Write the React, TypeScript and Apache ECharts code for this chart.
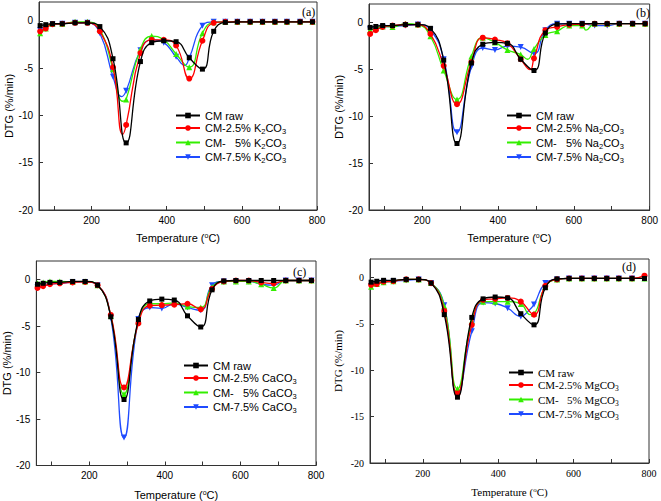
import React, { useEffect, useRef } from 'react';
import * as echarts from 'echarts';

// Temperatures (°C) at which the curve markers sit
const temps = [63, 78, 96, 122, 156, 189, 222, 257, 292, 330, 360, 392, 425, 460, 495, 525, 556, 588, 622, 655, 688, 720, 755, 788];

// CM raw (same in every panel)
const cmRaw = [-0.5, -0.4, -0.3, -0.3, -0.2, -0.2, -0.6, -4.0, -12.9, -4.3, -2.3, -2.1, -2.2, -3.9, -5.1, -1.1, -0.15, -0.1, -0.1, -0.1, -0.1, -0.1, -0.1, -0.1];

// (a) K2CO3
const k25 = [-1.1, -0.8, -0.35, -0.3, -0.2, -0.2, -1.1, -4.9, -11.0, -3.4, -2.0, -2.0, -2.6, -6.1, -2.1, -0.2, -0.1, -0.1, -0.1, -0.1, -0.1, -0.1, -0.1, -0.1];
const k25Extra = [[283, -12.0]];
const k5 = [-1.3, -0.8, -0.3, -0.3, -0.1, -0.1, -0.9, -5.1, -8.3, -3.0, -1.6, -2.0, -3.5, -4.9, -1.3, -0.15, -0.1, -0.1, -0.1, -0.1, -0.1, -0.1, -0.1, -0.1];
const k5Extra = [[283, -8.5]];
const k75 = [-1.0, -0.7, -0.35, -0.3, -0.2, -0.2, -1.3, -5.9, -7.4, -3.1, -2.0, -2.3, -3.8, -3.9, -0.5, -0.1, -0.1, -0.1, -0.1, -0.1, -0.1, -0.1, -0.1, -0.1];
const k75Extra = [[280, -8.0], [448, -4.7]];

// (b) Na2CO3
const na25 = [-1.2, -0.8, -0.45, -0.3, -0.2, -0.2, -1.2, -4.6, -8.7, -4.2, -1.6, -1.8, -2.2, -3.9, -3.8, -0.8, -0.45, -0.2, -0.15, -0.1, -0.1, -0.1, -0.1, -0.1];
const na25Extra = [[485, -5.0]];
const na5 = [-0.8, -0.6, -0.4, -0.45, -0.1, -0.2, -1.45, -5.1, -8.2, -3.6, -1.6, -2.1, -2.9, -3.4, -2.8, -1.3, -0.9, -0.3, -0.3, -0.1, -0.1, -0.1, -0.1, -0.1];
const na5Extra = [[478, -3.9], [632, -0.8]];
const na75 = [-0.7, -0.7, -0.45, -0.4, -0.3, -0.2, -0.75, -3.9, -11.7, -4.7, -2.7, -2.9, -2.5, -2.6, -3.3, -0.8, -0.1, -0.1, -0.1, -0.3, -0.3, -0.1, -0.1, -0.1];
const na75Extra: number[][] = [];

// (c) CaCO3
const ca25 = [-0.9, -0.7, -0.5, -0.4, -0.3, -0.25, -0.6, -3.8, -11.6, -4.7, -2.8, -2.75, -2.7, -2.6, -3.2, -1.0, -0.2, -0.1, -0.1, -0.3, -0.4, -0.1, -0.1, -0.1];
const ca25Extra: number[][] = [];
const ca5 = [-0.4, -0.3, -0.2, -0.2, -0.25, -0.2, -0.6, -3.9, -12.3, -4.5, -2.6, -2.6, -2.5, -2.9, -3.0, -0.8, -0.2, -0.2, -0.2, -0.5, -0.9, -0.1, -0.1, -0.1];
const ca5Extra: number[][] = [];
const ca75 = [-0.8, -0.7, -0.5, -0.4, -0.3, -0.25, -0.6, -4.1, -17.0, -4.25, -3.0, -3.1, -2.6, -3.0, -3.3, -0.6, -0.2, -0.2, -0.2, -0.5, -0.6, -0.1, -0.1, -0.1];
const ca75Extra: number[][] = [];

// (d) MgCO3
const mg25 = [-0.8, -0.7, -0.45, -0.4, -0.2, -0.2, -0.6, -3.6, -12.5, -5.1, -2.4, -2.3, -2.2, -2.6, -4.0, -0.9, -0.2, -0.1, -0.1, -0.1, -0.1, -0.1, -0.1, 0.2];
const mg25Extra: number[][] = [];
const mg5 = [-1.0, -0.7, -0.5, -0.4, -0.2, -0.2, -0.6, -3.1, -12.0, -4.7, -2.6, -2.6, -2.6, -2.85, -3.9, -1.0, -0.2, -0.1, -0.1, -0.1, -0.1, -0.1, -0.1, -0.1];
const mg5Extra = [[485, -4.0]];
const mg75 = [-0.9, -0.7, -0.5, -0.4, -0.3, -0.2, -0.6, -3.0, -12.6, -5.8, -2.7, -2.8, -3.3, -4.2, -2.9, -0.6, -0.2, -0.1, -0.1, -0.1, -0.1, -0.1, -0.1, -0.1];
const mg75Extra = [[480, -3.6]];

const xTickLabels = [200, 400, 600, 800];
const xTickMarks = [100, 200, 300, 400, 500, 600, 700, 800];

const panelLetters = ['(a)', '(b)', '(c)', '(d)'];
const salts = ['K2CO3', 'Na2CO3', 'CaCO3', 'MgCO3'];

const panelSeries = [
  [[cmRaw, []], [k25, k25Extra], [k5, k5Extra], [k75, k75Extra]],
  [[cmRaw, []], [na25, na25Extra], [na5, na5Extra], [na75, na75Extra]],
  [[cmRaw, []], [ca25, ca25Extra], [ca5, ca5Extra], [ca75, ca75Extra]],
  [[cmRaw, []], [mg25, mg25Extra], [mg5, mg5Extra], [mg75, mg75Extra]],
];

const colors = ['#000000', '#ff0000', '#33ee00', '#1f4bff'];
const symbols = ['rect', 'circle', 'triangle', 'path://M0,0 L10,0 L5,9 Z'];
const symbolSizes = [5, 6, 6, 6];

const grids = [
  { left: 39, top: 2, width: 278, height: 208 },
  { left: 369, top: 4, width: 283, height: 206 },
  { left: 36, top: 261, width: 280, height: 205 },
  { left: 370, top: 259, width: 279, height: 204 },
];
const fonts = ['Liberation Sans', 'Liberation Sans', 'Liberation Sans', 'Liberation Serif'];
const yNameGaps = [25, 25, 24, 27];
const legendPos = [
  { left: 175, top: 110 },
  { left: 506, top: 110 },
  { left: 183, top: 360 },
  { left: 508, top: 367 },
];
const letterPos = [
  { x: 302, y: 6 },
  { x: 636, y: 7 },
  { x: 293, y: 266 },
  { x: 622, y: 261 },
];

function seriesNames(salt: string) {
  return ['CM raw', 'CM-2.5% ' + salt, 'CM-   5% ' + salt, 'CM-7.5% ' + salt];
}

function buildData(vals: number[], extras: number[][]) {
  const pts: any[] = temps.map((t, i) => ({ value: [t, vals[i]] }));
  extras.forEach(([t, v]) => pts.push({ value: [t, v], symbol: 'none' }));
  pts.sort((a, b) => a.value[0] - b.value[0]);
  return pts;
}

function richName(name: string) {
  const s = '{n|' + name.replace(/([A-Za-z])(\d)/g, '$1}{s|$2}{n|') + '}';
  return s.replace(/\{n\|\}/g, '');
}

export default function App() {
  const ref = useRef<HTMLDivElement>(null);
  useEffect(() => {
    if (!ref.current) return;
    const chart = echarts.init(ref.current, undefined, { renderer: 'svg' });
    const xAxis: any[] = [];
    const yAxis: any[] = [];
    const series: any[] = [];
    const legend: any[] = [];
    const graphic: any[] = [];
    grids.forEach((g, p) => {
      const font = fonts[p];
      xAxis.push({
        type: 'value',
        gridIndex: p,
        min: 60,
        max: 800,
        name: 'Temperature ({o|o}C)',
        nameLocation: 'middle',
        nameGap: p < 2 ? 22 : 23,
        nameTextStyle: {
          fontFamily: font,
          fontSize: 11,
          color: '#000',
          rich: {
            o: { fontSize: 7, verticalAlign: 'top', lineHeight: 12, fontFamily: font, color: '#000' },
          },
        },
        axisLine: { show: true, onZero: false, lineStyle: { color: '#333', width: 1 } },
        axisTick: { show: true, inside: true, length: 4, customValues: xTickMarks, lineStyle: { color: '#333' } },
        axisLabel: { customValues: xTickLabels, fontFamily: font, fontSize: 10, color: '#000', margin: 5 },
        splitLine: { show: false },
      });
      yAxis.push({
        type: 'value',
        gridIndex: p,
        min: -20,
        max: 2,
        interval: 5,
        name: 'DTG (%/min)',
        nameLocation: 'middle',
        nameGap: yNameGaps[p],
        nameTextStyle: { fontFamily: font, fontSize: 11, color: '#000' },
        axisLine: { show: true, onZero: false, lineStyle: { color: '#333', width: 1 } },
        axisTick: { show: true, inside: true, length: 4, lineStyle: { color: '#333' } },
        axisLabel: { fontFamily: font, fontSize: 10, color: '#000', margin: 6, showMaxLabel: false },
        splitLine: { show: false },
      });
      const names = seriesNames(salts[p]);
      panelSeries[p].forEach(([vals, extras], i) => {
        series.push({
          type: 'line',
          name: names[i],
          xAxisIndex: p,
          yAxisIndex: p,
          data: buildData(vals as number[], extras as number[][]),
          smooth: 0.5,
          symbol: symbols[i],
          symbolSize: symbolSizes[i],
          showAllSymbol: true,
          color: colors[i],
          lineStyle: { color: colors[i], width: 1.3 },
          itemStyle: { color: colors[i] },
          z: 10 - i,
        });
      });
      legend.push({
        data: names,
        orient: 'vertical',
        left: legendPos[p].left,
        top: legendPos[p].top,
        itemWidth: 24,
        itemHeight: 7,
        itemGap: 1.5,
        padding: 0,
        selectedMode: false,
        formatter: (n: string) => richName(n),
        textStyle: {
          fontFamily: font,
          fontSize: 11,
          color: '#000',
          rich: {
            n: { fontFamily: font, fontSize: 11, lineHeight: 15, color: '#000' },
            s: { fontFamily: font, fontSize: 7.5, lineHeight: 15, verticalAlign: 'bottom', color: '#000' },
          },
        },
      });
      graphic.push({
        type: 'text',
        left: letterPos[p].x,
        top: letterPos[p].y,
        style: { text: panelLetters[p], font: '12px "Liberation Serif"', fill: '#000' },
      });
    });
    chart.setOption({
      animation: false,
      backgroundColor: '#fff',
      grid: grids.map((g) => ({ ...g, show: true, borderColor: '#333', borderWidth: 1, containLabel: false })),
      xAxis,
      yAxis,
      series,
      legend,
      graphic,
    });
    return () => chart.dispose();
  }, []);
  return <div ref={ref} style={{ position: 'fixed', left: 0, top: 0, width: 661, height: 501 }} />;
}
